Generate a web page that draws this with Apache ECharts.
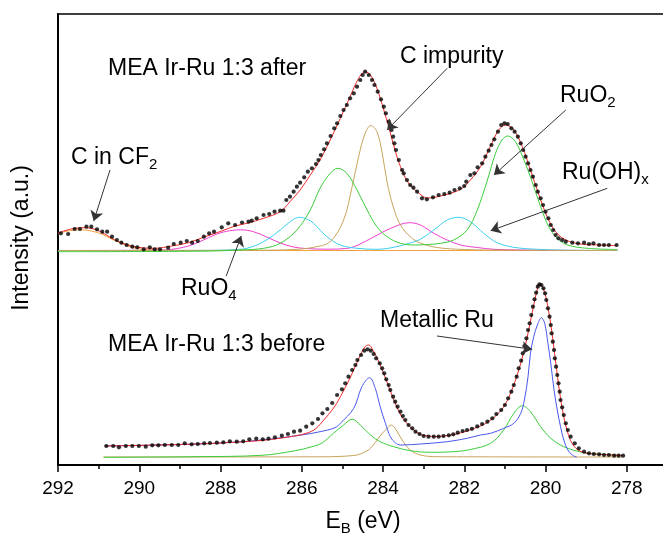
<!DOCTYPE html>
<html><head><meta charset="utf-8">
<script src="https://cdn.jsdelivr.net/npm/echarts@6/dist/echarts.min.js"></script>
<style>html,body{margin:0;padding:0;background:#fff}#c{width:663px;height:534px}</style>
</head><body><div id="c"></div><script>
// ---- "after" spectrum (upper), arbitrary intensity units ----
var afterData = [[291.93,231.7],[291.75,231],[291.59,236],[291.46,236],[291.30,238.3],[291.18,238.3],[291.04,235.7],[290.91,233.3],[290.79,233.3],[290.67,228.3],[290.55,225],[290.44,222.3],[290.31,220],[290.17,218.3],[290.05,217.7],[289.89,215.7],[289.74,217.7],[289.62,215.7],[289.49,215.7],[289.29,217.3],[289.15,221],[288.98,222.3],[288.83,224],[288.70,222.3],[288.56,224],[288.41,228.3],[288.28,231.7],[288.16,233.3],[287.97,237.7],[287.81,241.7],[287.64,240],[287.47,242.5],[287.31,243.3],[287.23,244.3],[287.11,246.7],[286.94,250],[286.80,251],[286.67,253.3],[286.53,254.3],[286.45,254.3],[286.38,265],[286.29,268.3],[286.20,273.3],[286.12,278.3],[286.04,282.3],[285.94,287.7],[285.85,293.3],[285.75,296.7],[285.65,301],[285.59,305],[285.53,310],[285.45,315.7],[285.38,321.7],[285.29,329],[285.20,336.7],[285.13,341.7],[285.05,349],[284.97,355],[284.89,360],[284.81,366.7],[284.72,371.7],[284.64,378.3],[284.56,385],[284.50,390],[284.44,393.3],[284.35,390],[284.27,385],[284.21,380],[284.13,373.3],[284.05,365.7],[283.98,358.3],[283.93,351.7],[283.86,343.3],[283.79,335],[283.75,328.3],[283.72,321.7],[283.68,315],[283.61,305],[283.53,295],[283.49,291.7],[283.41,285],[283.33,280],[283.25,277.3],[283.16,273.3],[283.04,266.7],[282.92,265.7],[282.77,267.7],[282.63,270],[282.49,271],[282.36,272.3],[282.24,275],[282.11,276.7],[282.00,279],[281.95,283.3],[281.85,290],[281.75,291.7],[281.67,297.7],[281.56,301.7],[281.48,308.3],[281.40,314.3],[281.33,320],[281.26,325.7],[281.17,333.3],[281.09,340],[281.01,341.7],[280.93,341],[280.84,336.7],[280.76,333.3],[280.68,328.3],[280.61,321.7],[280.55,315],[280.49,308.3],[280.43,301.7],[280.37,295],[280.31,288.3],[280.24,280],[280.19,273.3],[280.12,266.7],[280.06,260],[280.00,253.3],[279.93,246.7],[279.87,240],[279.81,235],[279.75,230],[279.68,226.7],[279.59,225],[279.50,223.3],[279.34,222.3],[279.20,221.7],[279.05,222.3],[278.93,221],[278.82,221.7],[278.68,220],[278.56,220],[278.44,220],[278.25,220]];
var afterFit = [[292,232],[291.83,234.3],[291.59,236.7],[291.34,237.3],[291.09,235.7],[290.85,231],[290.6,225],[290.35,221],[290.03,217.7],[289.62,216.7],[289.2,219],[288.79,222.3],[288.38,228.3],[287.97,234],[287.64,239],[287.35,241.7],[286.94,246.7],[286.53,253.3],[286.29,263.3],[286.04,275],[285.79,290],[285.55,305],[285.3,325],[285.05,346.7],[284.81,368.3],[284.6,386.7],[284.44,393.3],[284.31,390],[284.15,376.7],[283.98,355],[283.86,338.3],[283.74,320],[283.57,298.3],[283.37,281.7],[283.16,273.3],[282.9,267],[282.58,269],[282.09,275.7],[281.85,285],[281.6,298.3],[281.36,318.3],[281.15,335],[280.98,340],[280.78,335],[280.57,318.3],[280.37,295],[280.16,270],[279.96,248.3],[279.75,233.3],[279.5,225],[279.13,221],[278.64,220],[278.23,219.3]];
var afterCF2 = [[292,231],[291.83,233.3],[291.6,235],[291.4,235.2],[291.18,234],[290.93,231],[290.68,226],[290.44,221.7],[290.19,217.7],[289.86,215.5],[289.4,214.7],[288.5,214.5],[278.23,214.5]];
var afterRuO4 = [[292,214.5],[289.5,214.8],[288.91,217.7],[288.51,223.3],[288.09,231],[287.77,234.3],[287.5,235.2],[287.19,233.3],[286.86,228],[286.53,222],[286.2,218],[285.9,216.5],[285.4,215.8],[284.9,216.5],[284.64,219.5],[284.23,228],[283.82,236.5],[283.35,242.3],[283.08,240],[282.75,231.7],[282.42,225],[282.09,220],[281.68,217.5],[281.27,215.7],[280.6,215],[279.5,214.6],[278.23,214.5]];
var afterRuOH = [[292,214.5],[288.2,214.6],[287.7,215.3],[287.35,216.7],[286.94,223.3],[286.53,235],[286.25,244.5],[286.06,247.7],[285.85,245.5],[285.71,241.7],[285.38,228.3],[285.05,220],[284.64,216.7],[284.15,215.7],[283.66,218.3],[283.3,222.5],[283.08,225.7],[282.75,235],[282.42,245],[282.13,247.7],[281.85,243.3],[281.52,231.7],[281.19,222.3],[280.78,217.7],[280.2,215.7],[279.5,214.8],[278.23,214.5]];
var afterRuO2 = [[292,213.3],[288.5,213.8],[287.5,215],[286.94,216.7],[286.53,221.7],[286.12,235],[285.79,255],[285.55,276.7],[285.3,291.7],[285.11,296.7],[284.89,291.7],[284.64,275],[284.39,255],[284.15,238.3],[283.9,228.3],[283.57,221.7],[283.2,220],[282.9,220.5],[282.58,221.7],[282.26,225],[281.93,235],[281.68,255],[281.43,285],[281.23,311.7],[281.07,325],[280.93,329],[280.74,323.3],[280.53,305],[280.33,283.3],[280.12,258.3],[279.92,238.3],[279.71,226.7],[279.46,220],[278.97,216.7],[278.23,215.5]];
var afterCimp = [[292,214.5],[287,214.8],[286.2,215.5],[285.71,217.7],[285.3,223.3],[284.97,245],[284.76,278.3],[284.6,308.3],[284.44,331.7],[284.3,339.5],[284.15,333.3],[284.02,312],[283.9,283],[283.74,257],[283.57,240],[283.33,228.3],[283.08,222],[282.67,217.5],[282,215.5],[281,214.8],[278.23,214.5]];

// ---- "before" spectrum (lower) ----
var beforeData = [[290.81,19],[290.64,19],[290.50,17.7],[290.33,19],[290.17,19],[290.01,19],[289.84,18.3],[289.68,19.7],[289.53,19.7],[289.37,20],[289.20,20],[289.04,20],[288.88,21.7],[288.71,20.7],[288.56,21],[288.40,21.7],[288.26,22],[288.09,22.3],[287.93,22.7],[287.77,23.7],[287.60,23.3],[287.44,23.7],[287.29,25.7],[287.12,26.3],[286.96,25.7],[286.82,26.3],[286.66,27.7],[286.49,29.3],[286.34,31],[286.19,33.3],[286.04,34.3],[285.89,38.3],[285.74,41.7],[285.60,46],[285.49,51.7],[285.37,56],[285.25,62],[285.13,70],[285.01,75.7],[284.93,81.7],[284.85,88.3],[284.76,95],[284.68,100],[284.63,105],[284.54,110],[284.46,114.3],[284.38,115.7],[284.30,114.3],[284.23,111],[284.17,106.7],[284.08,101.7],[284.02,96.7],[283.97,91.7],[283.92,85.7],[283.86,80],[283.82,75],[283.75,68.3],[283.70,63.3],[283.64,58.3],[283.57,53.3],[283.51,49],[283.45,45],[283.37,40],[283.28,36.7],[283.20,33.3],[283.10,31],[283.00,29],[282.88,28.3],[282.75,28.3],[282.63,28.3],[282.51,29],[282.38,29.7],[282.27,30.7],[282.16,32.3],[282.04,34],[281.93,35],[281.81,36.2],[281.68,38.6],[281.56,41],[281.43,43.3],[281.31,46.7],[281.21,51],[281.09,55],[281.00,60],[280.92,66.7],[280.84,73.3],[280.78,80],[280.71,88.3],[280.66,96.7],[280.60,104.3],[280.56,111.7],[280.52,119],[280.47,126.7],[280.43,135],[280.39,141.7],[280.35,150],[280.31,158.3],[280.27,165.7],[280.23,172.3],[280.19,178.3],[280.15,180.7],[280.10,180],[280.05,176.7],[280.01,171.7],[279.98,165],[279.94,156.7],[279.90,148.3],[279.87,140],[279.85,131.7],[279.82,123.3],[279.79,115],[279.77,106.7],[279.74,98.3],[279.71,90],[279.68,81.7],[279.65,73.3],[279.63,65],[279.59,57.7],[279.55,50],[279.50,41.7],[279.45,35],[279.38,28.3],[279.28,21.7],[279.18,16.7],[279.05,13.3],[278.93,11.7],[278.81,11],[278.68,10.7],[278.56,10],[278.44,10],[278.31,9.3],[278.20,9.3],[278.09,9.3]];
var beforeFit = [[290.85,19],[289,20.5],[288,22],[287,24.5],[286.5,27],[286,30.5],[285.7,35],[285.5,43],[285.2,58],[285.0,72],[284.8,88],[284.6,106],[284.45,118],[284.35,120],[284.25,115],[284.1,103],[283.95,88],[283.8,72],[283.65,57],[283.5,46],[283.3,37],[283.1,31],[282.9,29],[282.7,28.5],[282.4,29.5],[282.1,32],[281.8,36],[281.5,41],[281.2,50],[281.0,60],[280.8,78],[280.6,103],[280.45,128],[280.3,158],[280.2,176],[280.14,181],[280.05,176],[279.95,160],[279.85,135],[279.75,103],[279.65,72],[279.55,48],[279.45,32],[279.35,22],[279.2,15],[279.0,12],[278.6,10.5],[278.1,9.5]];
var beforeMetal = [[290.85,19],[289,20.5],[288,22],[286.98,25],[286,30],[285.55,33.3],[285.18,37.3],[285.05,41.7],[284.72,56.7],[284.52,78.3],[284.33,87.3],[284.19,76.7],[284.07,58.3],[283.94,41.7],[283.82,28.3],[283.7,22.3],[283.57,20],[283.08,21],[282.42,23.3],[281.93,26.7],[281.6,30],[281.35,31.7],[281.03,36.7],[280.78,41.7],[280.61,51.7],[280.52,65],[280.43,88.3],[280.37,111.7],[280.29,128.3],[280.2,140],[280.1,147.3],[280.02,141.7],[279.94,121.7],[279.87,101.7],[279.79,75],[279.71,55],[279.63,38.3],[279.55,25],[279.45,15],[279.34,10],[279.23,7.7]];
var beforeGreen = [[290.88,7.7],[288.63,8.3],[286.98,9.7],[286.16,14.3],[285.75,18.3],[285.5,22],[285.22,31.7],[284.97,40],[284.76,45.7],[284.56,40],[284.31,30],[284.07,23.3],[283.74,18.3],[283.33,14.3],[282.83,12.7],[282.26,13.3],[281.85,15.5],[281.35,21.7],[281.03,35],[280.78,51.7],[280.57,59.3],[280.37,53.3],[280.12,38.3],[279.87,26.7],[279.55,18.3],[279.05,12.3],[278.56,10.7],[278.1,9.3]];
var beforeTan = [[290.88,8],[285.5,8.2],[284.72,9.5],[284.5,12],[284.31,16.7],[284.07,29],[283.9,36.7],[283.8,40],[283.7,36.7],[283.53,25],[283.33,15],[283.08,10],[282.67,8.3],[278.1,8]];

// annotation arrows (data coordinates: [from, to])
var arrowLines = [
  [[290.72,295],[291.12,244]],
  [[282.42,396.7],[283.90,335]],
  [[279.50,355],[281.27,290]],
  [[278.48,276.7],[281.35,234.3]],
  [[287.86,189],[287.49,229]],
  [[282.67,129],[280.33,115.7]]
];

var FONT = '"Liberation Sans", Arial, Helvetica, sans-serif';
var C = {red:'#f22a2a', green:'#3ccd3c', tan:'#c9a45a', cyan:'#3ad0f0', mag:'#ee3fd0', blue:'#4b58ee', orange:'#f2a23a'};

function line(data, color, z) {
  return {type:'line', data:data, smooth:0.35, showSymbol:false, symbol:'none',
          lineStyle:{color:color, width:1}, z:z||2, silent:true};
}
var rich = {
  a:{fontSize:23, lineHeight:28, fontFamily:FONT, color:'#000'},
  s:{fontSize:15, lineHeight:14, fontFamily:FONT, color:'#000', verticalAlign:'bottom', padding:[15,0,0,0]}
};
function txt(x, y, text, align) {
  return {type:'text', x:x, y:y, silent:true,
    style:{text:text, rich:rich, font:'23px ' + FONT, fill:'#000', textAlign:align||'left', textVerticalAlign:'middle'}};
}

var chart = echarts.init(document.getElementById('c'), null, {renderer:'canvas'});
chart.setOption({
  animation:false,
  backgroundColor:'#fff',
  grid:{left:58, top:14, right:-45, bottom:69, show:true, borderColor:'#000', borderWidth:1.5,
        containLabel:false, outerBoundsMode:'none'},
  xAxis:[{
    type:'value', inverse:true, min:276, max:292, interval:2,
    axisLine:{show:true, lineStyle:{color:'#000', width:2}},
    axisTick:{show:true, inside:false, length:7, lineStyle:{color:'#000', width:1.5}},
    minorTick:{show:true, splitNumber:2, length:4, lineStyle:{color:'#000', width:1.5}},
    axisLabel:{fontSize:19, color:'#000', fontFamily:FONT, margin:14},
    splitLine:{show:false}
  }],
  yAxis:[{
    type:'value', min:0, max:451, show:true,
    axisLine:{show:true, lineStyle:{color:'#000', width:2}},
    axisTick:{show:false}, axisLabel:{show:false}, splitLine:{show:false}
  }],
  series:[
    line(afterCF2, C.orange), line(afterRuO4, C.mag), line(afterRuOH, C.cyan),
    line(afterCimp, C.tan), line(afterRuO2, C.green),
    line(afterFit, C.red, 3),
    line(beforeTan, C.tan), line(beforeGreen, C.green), line(beforeMetal, C.blue),
    line(beforeFit, C.red, 3),
    {type:'scatter', data:afterData, symbol:'circle', symbolSize:4.2, itemStyle:{color:'#000'}, z:4, silent:true},
    {type:'scatter', data:beforeData, symbol:'circle', symbolSize:4.2, itemStyle:{color:'#000'}, z:4, silent:true,
     markLine:{silent:true, symbol:['none','arrow'], symbolSize:10, label:{show:false},
       lineStyle:{color:'#333', width:1, type:'solid'},
       itemStyle:{color:'#111'},
       emphasis:{disabled:true},
       data:arrowLines.map(function(p){return [{coord:p[0]},{coord:p[1]}];})}}
  ],
  graphic:[
    txt(108, 69, '{a|MEA Ir-Ru 1:3 after}'),
    txt(108, 345, '{a|MEA Ir-Ru 1:3 before}'),
    txt(71, 158, '{a|C in CF}{s|2}'),
    txt(400, 57, '{a|C impurity}'),
    txt(560, 96, '{a|RuO}{s|2}'),
    txt(562, 173, '{a|Ru(OH)}{s|x}'),
    txt(181, 289, '{a|RuO}{s|4}'),
    txt(380, 321, '{a|Metallic Ru}'),
    txt(363, 522, '{a|E}{s|B}{a| (eV)}', 'center'),
    {type:'text', x:22, y:238, rotation:Math.PI/2, silent:true,
     style:{text:'Intensity (a.u.)', font:'23px ' + FONT, fill:'#000', textAlign:'center', textVerticalAlign:'middle'}}
  ]
});
</script></body></html>
